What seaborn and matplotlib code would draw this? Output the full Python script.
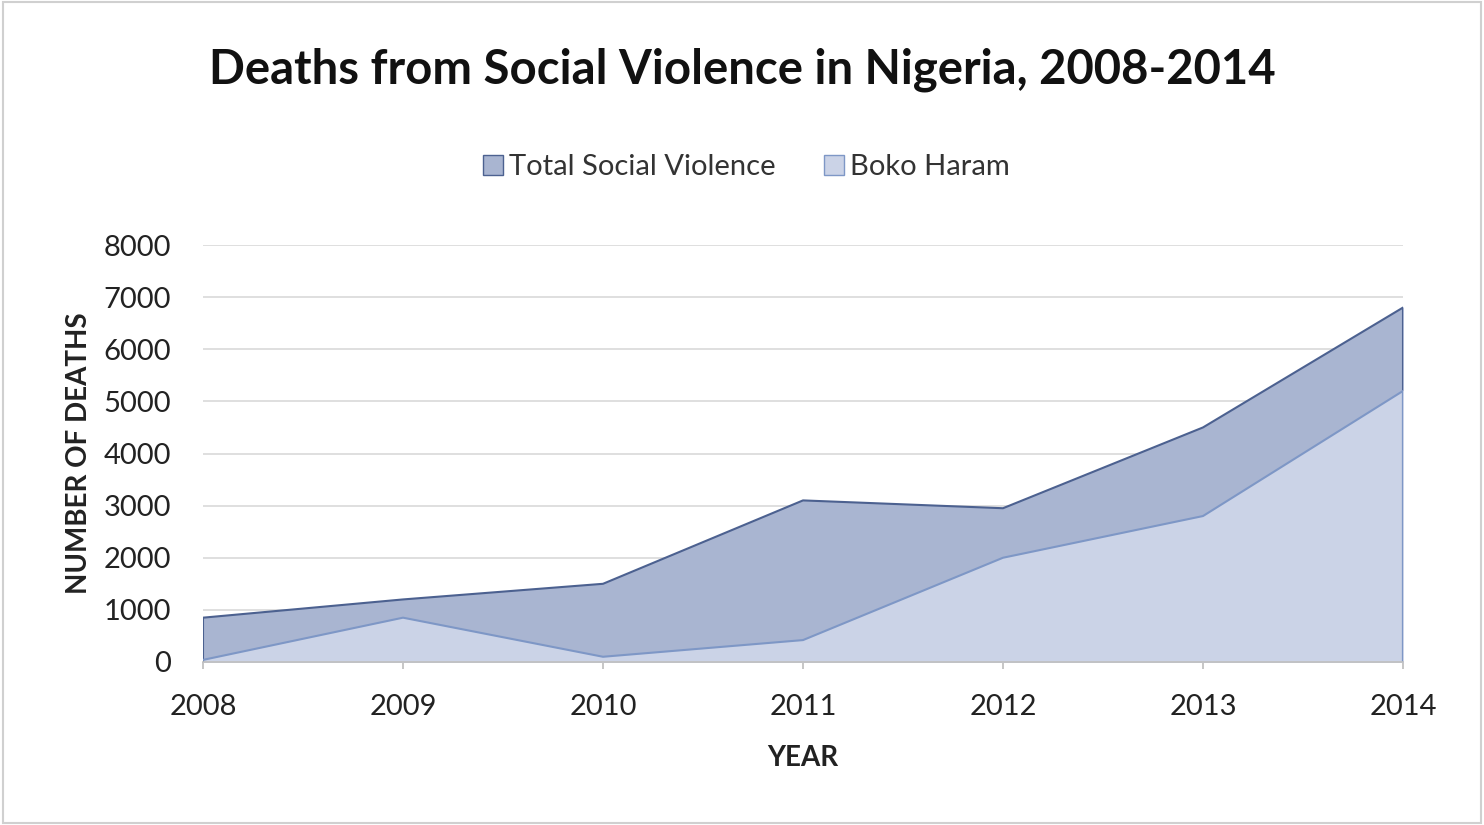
import matplotlib.pyplot as plt
import seaborn as sns
import pandas as pd
from matplotlib.patches import Patch

years = [2008, 2009, 2010, 2011, 2012, 2013, 2014]
total_violence = [850, 1200, 1500, 3100, 2950, 4500, 6800]
boko_haram = [40, 850, 100, 420, 2000, 2800, 5200]

df = pd.DataFrame({'year': years, 'total': total_violence, 'boko': boko_haram})

sns.set_theme(style='white')
plt.rcParams['font.family'] = ['Lato', 'DejaVu Sans']

fig = plt.figure(figsize=(14.84, 8.25), dpi=100)
ax = fig.add_axes([0.1368, 0.1976, 0.8086, 0.5054])

total_fill = '#A9B5D1'
total_edge = '#4C6190'
boko_fill = '#CBD3E7'
boko_edge = '#7E97C6'

# areas overlap (not stacked)
ax.fill_between(df['year'], df['total'], color=total_fill, zorder=2)
ax.fill_between(df['year'], df['boko'], color=boko_fill, zorder=3)
sns.lineplot(data=df, x='year', y='total', color=total_edge, linewidth=1.5, ax=ax, zorder=4)
sns.lineplot(data=df, x='year', y='boko', color=boko_edge, linewidth=1.5, ax=ax, zorder=5)
ax.vlines([years[0], years[-1]], 0, [total_violence[0], total_violence[-1]], color=total_edge, linewidth=1.5, zorder=4)
ax.vlines([years[-1]], 0, [boko_haram[-1]], color=boko_edge, linewidth=1.5, zorder=5)

ax.set_xlim(2008, 2014)
ax.set_ylim(0, 8000)
ax.set_yticks(range(0, 8001, 1000))
ax.set_xticks(years)
ax.yaxis.grid(True, color='#D9D9D9', linewidth=1.2, zorder=0)
ax.set_axisbelow(True)
for s in ['top', 'right', 'left']:
    ax.spines[s].set_visible(False)
ax.spines['bottom'].set_color('#BFBFBF')
ax.spines['bottom'].set_linewidth(1.2)
ax.spines['bottom'].set_zorder(6)
ax.tick_params(axis='x', bottom=True, length=5, color='#BFBFBF', labelsize=21, pad=18, labelcolor='#222222')
ax.tick_params(axis='y', left=False, labelsize=21, pad=17, labelcolor='#222222')

ax.set_xlabel('YEAR', fontsize=20, fontweight='bold', labelpad=18, color='#222222')
ax.set_ylabel('NUMBER OF DEATHS', fontsize=20, fontweight='bold', labelpad=8, color='#222222')

fig.text(0.5, 0.915, 'Deaths from Social Violence in Nigeria, 2008-2014', ha='center', va='center',
         fontsize=34, fontweight='bold', color='#111111')

handles = [Patch(facecolor=total_fill, edgecolor=total_edge, label='Total Social Violence'),
           Patch(facecolor=boko_fill, edgecolor=boko_edge, label='Boko Haram')]
fig.legend(handles=handles, loc='center', bbox_to_anchor=(0.503, 0.797), ncol=2, frameon=False,
           fontsize=21, handlelength=0.7, handleheight=0.7, handletextpad=0.2, columnspacing=1.65,
           labelcolor='#333333')

fig.patches.append(plt.Rectangle((0.002, 0.002), 0.996, 0.996, transform=fig.transFigure,
                                 fill=False, edgecolor='#D0D0D0', linewidth=1.5))

fig.savefig('out.png', dpi=100)
